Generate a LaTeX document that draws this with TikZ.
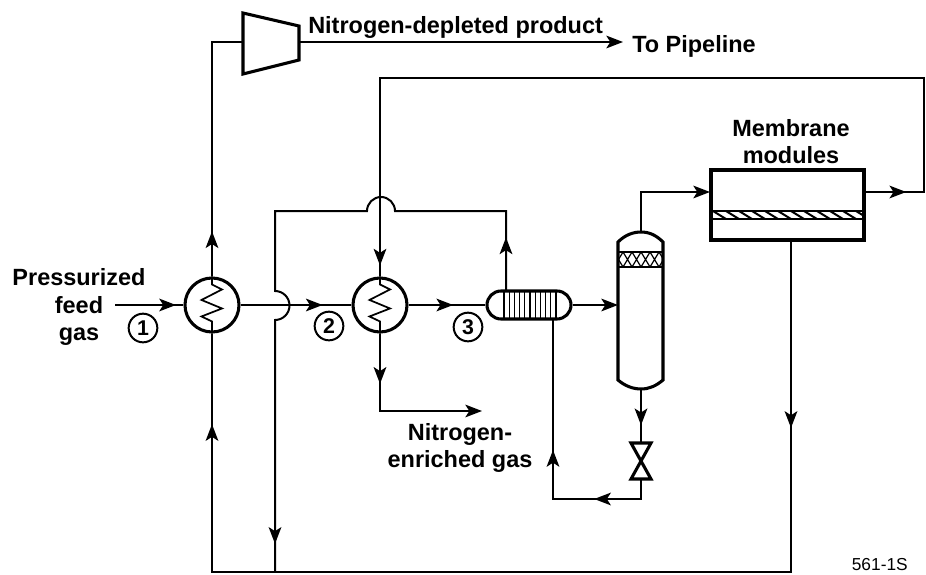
\documentclass[tikz,border=0pt]{standalone}
\usepackage{fontspec}
\setmainfont{Liberation Sans}
\usetikzlibrary{arrows.meta,decorations.markings}
\tikzset{
  flow/.style={line width=1.5pt},
  heavy/.style={line width=2.3pt},
  rotulo/.style={font=\bfseries\fontsize{17.6}{20.4}\selectfont,align=center,inner sep=0pt},
  hxnode/.style={circle,draw,line width=2.3pt,minimum size=40.5pt,inner sep=0pt},
  nro/.style={circle,draw,line width=1.5pt,minimum size=21.5pt,inner sep=0pt,font=\bfseries\fontsize{16}{16}\selectfont},
  fin/.style={-{Stealth[length=12.5pt,width=9.5pt,inset=3pt]}},
  tipat/.style={postaction={decorate,decoration={markings,mark=at position #1 with {\arrow{Stealth[length=12.5pt,width=9.5pt,inset=3pt]}}}}}
}
\newcommand{\cambiador}[3]{%
  \node[hxnode] (#1) at (#2,#3) {};
  \draw[line width=1.3pt] (#1.north) -- ++(0,8) -- ++(10,5) -- ++(-20.5,10.5) -- ++(20.5,8.5) -- ++(-20.5,8) -- ++(10.5,5) -- (#1.south);}
\begin{document}
\begin{tikzpicture}[x=0.75pt,y=-0.75pt]
  \useasboundingbox (0,0) rectangle (926,575);
  % equipos
  \cambiador{hxa}{212}{305}
  \cambiador{hxb}{380}{305}
  \draw[heavy] (243,13) coordinate (compnw) -- (299,26) -- (299,60) -- (243,74) -- cycle;
  \coordinate (compin) at (243,42);
  \coordinate (compout) at (299,42);
  % intercambiador de tubos
  \node[draw,heavy,rounded corners=10.5pt,minimum width=63pt,minimum height=21pt,inner sep=0pt] (tubos) at (529,305) {};
  \foreach \x in {504,509.2,514.4,519.6,524.8,530,535.2,540.4,545.6,550.8,556}
    \draw[line width=0.9pt] (\x,291) -- (\x,319);
  % columna
  \draw[heavy] (618,380) -- (618,242) .. controls (625,235) and (633,232) .. (641,232) coordinate (coltop)
    .. controls (649,232) and (656,235) .. (663,242) -- (663,380)
    .. controls (656,386) and (649,389) .. (641,389) coordinate (colbot)
    .. controls (633,389) and (625,386) .. (618,380) -- cycle;
  \coordinate (colin) at (618,305);
  \begin{scope}
    \clip (619,252) rectangle (662,267);
    \foreach \x in {614,623,632,641,650,659}
      \draw[line width=0.9pt] (\x,252) -- (\x+9,267) (\x+9,252) -- (\x,267);
  \end{scope}
  \draw[line width=0.9pt] (618,252) -- (663,252) (618,267) -- (663,267);
  % modulos
  \node[draw,line width=3pt,minimum width=114.5pt,minimum height=53pt,inner sep=0pt] (modulo) at (787.5,205) {};
  \begin{scope}
    \clip (711,211) rectangle (864,219);
    \foreach \x in {700,713,...,870}
      \draw[line width=1.5pt] (\x,211) -- (\x+13,219);
  \end{scope}
  \draw[line width=0.9pt] (711,211) -- (864,211) (711,219) -- (864,219);
  \coordinate (modin) at (710,192);
  \coordinate (modout) at (865,192);
  \coordinate (modbot) at (791,242);
  % valvula
  \draw[heavy] (631,443) coordinate (valnw) -- (651,443) -- (631,479) -- (651,479) -- cycle;
  \coordinate (valtop) at (641,443);
  \coordinate (valbot) at (641,479);
  % corrientes
  \coordinate (feed) at (115,305);
  \coordinate (prod) at (623,42);
  \coordinate (enr) at (482,411);
  \coordinate (sumidero) at (275,572);
  \draw[flow,tipat=0.89] (feed) -- (hxa.west);
  \draw[flow,tipat=0.74] (hxa.east) -- (hxb.west);
  \draw[flow,tipat=0.58] (hxb.east) -- (tubos.west);
  \draw[flow,fin] (tubos.east) -- (colin);
  \draw[flow,tipat=0.17] (hxa.north) |- (compin);
  \draw[flow,fin] (compout) -- (prod);
  \draw[flow,fin] (coltop) |- (modin);
  \draw[flow,tipat=0.045,tipat=0.988] (modout) -- (924,192) -- (924,78) -- (380,78) -- (hxb.north);
  \draw[flow,fin,tipat=0.28] (hxb.south) |- (enr);
  \draw[flow,tipat=0.076,tipat=0.96] (506,291) -- (506,211) -- (395,211) arc (360:180:14) -- (275,211)
    -- (275,291) arc (270:450:14.5) -- (sumidero);
  \draw[flow,tipat=0.162,tipat=0.921] (modbot) -- (791,572) -- (212,572) -- (hxa.south);
  \draw[flow,tipat=0.67] (colbot) -- (valtop);
  \draw[flow,tipat=0.232,tipat=0.545] (valbot) -- (641,499) -- (553,499) -- (553,319);
  % rotulos
  \node[rotulo] (lbfeed) at (79,307) {Pressurized\\feed\\gas};
  \node[rotulo,anchor=base west] (lbprod) at (308,33) {Nitrogen-depleted product};
  \node[rotulo,anchor=base west] (lbpipe) at (632,52) {To Pipeline};
  \node[rotulo] (lbmod) at (791,142) {Membrane\\modules};
  \node[rotulo] (lbenr) at (460,448) {Nitrogen-\\enriched gas};
  \node[nro] (na) at (143,328) {1};
  \node[nro] (nb) at (329,326) {2};
  \node[nro] (nc) at (468,327) {3};
  \node[font=\fontsize{13}{13}\selectfont,inner sep=0pt,anchor=base east] (lbcod) at (908,570.5) {561-1S};
\end{tikzpicture}
\end{document}
